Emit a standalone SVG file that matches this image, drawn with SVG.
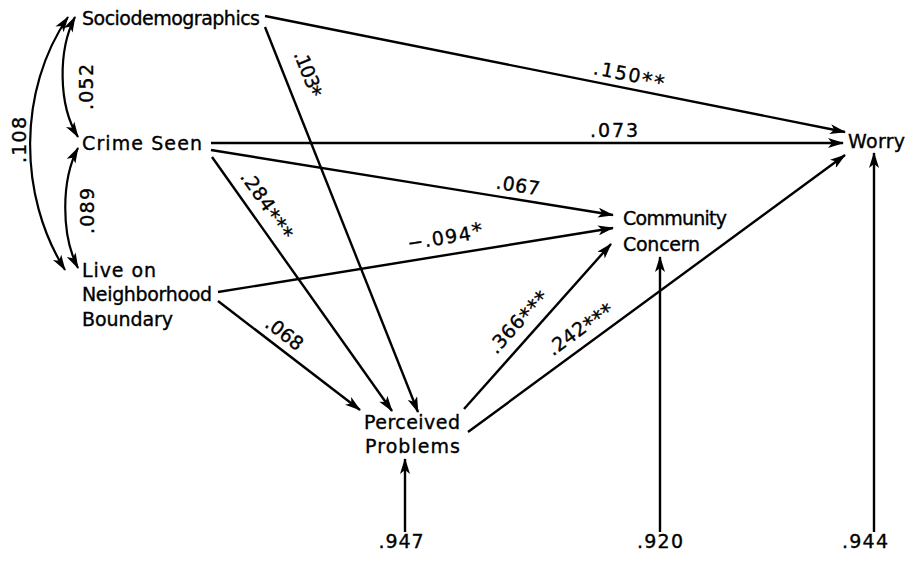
<svg xmlns="http://www.w3.org/2000/svg" width="911" height="561" viewBox="0 0 911 561">
<style>
  .lbl{font-family:"DejaVu Sans","Liberation Sans",Arial,sans-serif;font-size:19px;fill:#000;stroke:#000;stroke-width:0.35;}
  .num{font-family:"DejaVu Sans","Liberation Sans",Arial,sans-serif;font-size:19px;fill:#000;stroke:#000;stroke-width:0.35;text-anchor:middle;}
  .st{font-size:21px;}
  .edge{fill:none;stroke:#000;stroke-width:2.4;marker-end:url(#ah);}
  .curve{fill:none;stroke:#000;stroke-width:2.2;marker-start:url(#ah);marker-end:url(#ah);}
</style>
<defs>
  <marker id="ah" viewBox="0 0 16 10" refX="15" refY="5" markerWidth="17" markerHeight="10" markerUnits="userSpaceOnUse" orient="auto-start-reverse">
    <path d="M0,0 L16,5 L0,10 L4,5 z" fill="#000"/>
  </marker>
</defs>
<rect width="911" height="561" fill="#fff"/>

<g id="connectors">
  <path class="curve" d="M68,17 C18,90 18,195 65,270"/>
  <path class="curve" d="M75,17 C58,50 58,105 78,137"/>
  <path class="curve" d="M78,148 C61,180 61,235 78,268"/>
  <path class="edge" d="M265,16 L845,132"/>
  <path class="edge" d="M211,143 L843,143"/>
  <path class="edge" d="M211,150 L613,215"/>
  <path class="edge" d="M212,157 L392,411"/>
  <path class="edge" d="M265,27 L418,412"/>
  <path class="edge" d="M218,292 L613,228"/>
  <path class="edge" d="M218,301 L360,410"/>
  <path class="edge" d="M464,409 L611,244"/>
  <path class="edge" d="M468,432 L845,155"/>
  <path class="edge" d="M405,532 L405,459"/>
  <path class="edge" d="M660,532 L660,257"/>
  <path class="edge" d="M874,532 L874,153"/>
  <text class="num" x="19" y="147" textLength="46" transform="rotate(-90 19 140)">.108</text>
  <text class="num" x="86" y="94" textLength="46" transform="rotate(-90 86 87)">.052</text>
  <text class="num" x="87" y="218" textLength="46" transform="rotate(-90 87 211)">.089</text>
  <text class="num" x="629" y="81" textLength="72" transform="rotate(11 629 75)">.150<tspan class="st" dy="3">**</tspan></text>
  <text class="num" x="614" y="137" textLength="48">.073</text>
  <text class="num" x="518" y="192" textLength="44" transform="rotate(9 518 186)">.067</text>
  <text class="num" x="445" y="244" textLength="76" transform="rotate(-9.3 445 238)">−.094<tspan class="st" dy="-1">*</tspan></text>
  <text class="num" x="267" y="211" textLength="78" transform="rotate(54.7 267 205)">.284<tspan class="st" dy="3">***</tspan></text>
  <text class="num" x="308" y="80" textLength="48" transform="rotate(68.3 308 74)">.103<tspan class="st" dy="3">*</tspan></text>
  <text class="num" x="284" y="340" textLength="42" transform="rotate(37.5 284 334)">.068</text>
  <text class="num" x="518" y="328" textLength="78" transform="rotate(-48.3 518 322)">.366<tspan class="st" dy="3">***</tspan></text>
  <text class="num" x="580" y="335" textLength="76" transform="rotate(-36.4 580 329)">.242<tspan class="st" dy="3">***</tspan></text>
</g>

<g id="sociodemographics"><text class="lbl" x="82" y="25" textLength="178">Sociodemographics</text></g>
<g id="crime-seen"><text class="lbl" x="82" y="150" textLength="120">Crime  Seen</text></g>
<g id="live-on-boundary">
  <text class="lbl" x="82" y="277" textLength="74">Live on</text>
  <text class="lbl" x="82" y="301" textLength="130">Neighborhood</text>
  <text class="lbl" x="82" y="326" textLength="91">Boundary</text>
</g>
<g id="worry"><text class="lbl" x="848" y="148" textLength="57">Worry</text></g>
<g id="community-concern">
  <text class="lbl" x="623" y="225" textLength="104">Community</text>
  <text class="lbl" x="623" y="251" textLength="77">Concern</text>
</g>
<g id="perceived-problems">
  <text class="lbl" x="364" y="429" textLength="96">Perceived</text>
  <text class="lbl" x="365" y="453" textLength="95">Problems</text>
</g>
<g id="residual-perceived"><text class="num" x="401" y="548" textLength="45">.947</text></g>
<g id="residual-community"><text class="num" x="660" y="548" textLength="46">.920</text></g>
<g id="residual-worry"><text class="num" x="865" y="548" textLength="46">.944</text></g>
</svg>
